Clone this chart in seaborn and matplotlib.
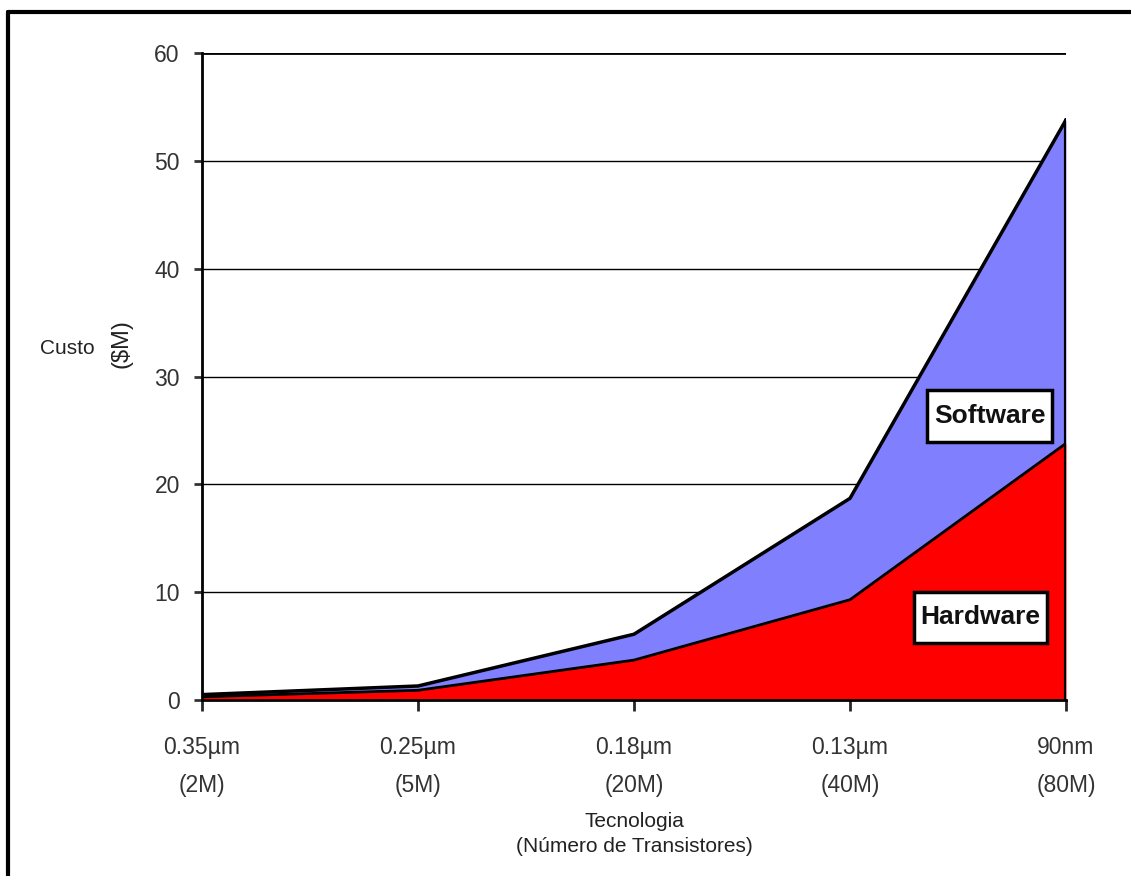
import matplotlib
matplotlib.use("Agg")
import matplotlib.pyplot as plt
import seaborn as sns
import pandas as pd
from matplotlib.patches import Rectangle
from matplotlib.lines import Line2D

categories = ["0.35µm\n(2M)", "0.25µm\n(5M)", "0.18µm\n(20M)", "0.13µm\n(40M)", "90nm\n(80M)"]
hardware = [0.3, 0.9, 3.7, 9.3, 23.8]
software = [0.2, 0.4, 2.4, 9.4, 30.0]
yticks = [0, 10, 20, 30, 40, 50, 60]

sns.set_theme(style="white")
plt.rcParams['font.family'] = ['Liberation Sans', 'DejaVu Sans']

x = list(range(len(categories)))
total = [h + s for h, s in zip(hardware, software)]
df = pd.DataFrame({"x": x, "Hardware": hardware, "Total": total})

fig = plt.figure(figsize=(11.31, 8.76), dpi=100)
ax = fig.add_axes([202/1131, 1 - 700/876, (1066-202)/1131, (700-53)/876])

for yv in yticks[1:]:
    ax.axhline(yv, color="black", lw=1.0 if yv < 60 else 2.0, zorder=1)

ax.fill_between(x, 0, hardware, color="#FF0000", zorder=2, lw=0)
ax.fill_between(x, hardware, total, color="#8080FF", zorder=2, lw=0)
sns.lineplot(data=df, x="x", y="Total", color="black", lw=2.5, ax=ax, zorder=3)
sns.lineplot(data=df, x="x", y="Hardware", color="black", lw=2, ax=ax, zorder=3)
ax.plot([4, 4], [0, total[-1]], color="black", lw=3, zorder=3)

ax.set_xlim(0, 4)
ax.set_ylim(0, 60)
ax.set_yticks(yticks)
ax.set_xticks(x)
ax.set_xticklabels(categories, fontsize=16.5, color="#333333", linespacing=1.85)
ax.tick_params(axis="y", labelsize=16.5, colors="#333333", length=6, width=2, direction="out", left=True, pad=10)
ax.tick_params(axis="x", length=8, width=2, direction="out", bottom=True, pad=18)
for lbl in ax.get_yticklabels():
    lbl.set_color("#333333")
for s in ["top", "right"]:
    ax.spines[s].set_visible(False)
ax.spines["left"].set_color("black")
ax.spines["left"].set_linewidth(2)
ax.spines["bottom"].set_color("black")
ax.spines["bottom"].set_linewidth(2)
ax.set_xlabel("")
ax.set_ylabel("")

fig.text(634/1131, 1 - 834/876, "Tecnologia\n(Número de Transistores)",
         ha="center", va="center", fontsize=15, color="#222222", linespacing=1.35)
fig.text(67/1131, 1 - 348/876, "Custo", ha="center", va="center", fontsize=15, color="#222222")
fig.text(122/1131, 1 - 344/876, "($M)", ha="center", va="center", fontsize=17, rotation=90, color="#222222")

def px_to_data(px, py):
    return (px - 202) / 216.0, (700 - py) / (647 / 60.0)

for name, (x0, y0, x1, y1) in {"Software": (927, 390, 1052, 442), "Hardware": (914, 592, 1047, 643)}.items():
    dx0, dy0 = px_to_data(x0, y1)
    dx1, dy1 = px_to_data(x1, y0)
    ax.add_patch(Rectangle((dx0, dy0), dx1 - dx0, dy1 - dy0, fc="white", ec="black", lw=2.5, zorder=5))
    ax.text((dx0 + dx1) / 2, (dy0 + dy1) / 2, name, ha="center", va="center", fontsize=19,
            fontweight="bold", color="#111111", zorder=6)

# outer frame: only top and left edges are visible in the reference crop
fig.lines.append(Line2D([7.5/1131, 1.0], [1 - 12/876, 1 - 12/876], transform=fig.transFigure, color="black", lw=3))
fig.lines.append(Line2D([7.5/1131, 7.5/1131], [0.0, 1 - 12/876], transform=fig.transFigure, color="black", lw=3))

fig.savefig("out.png", dpi=100)
